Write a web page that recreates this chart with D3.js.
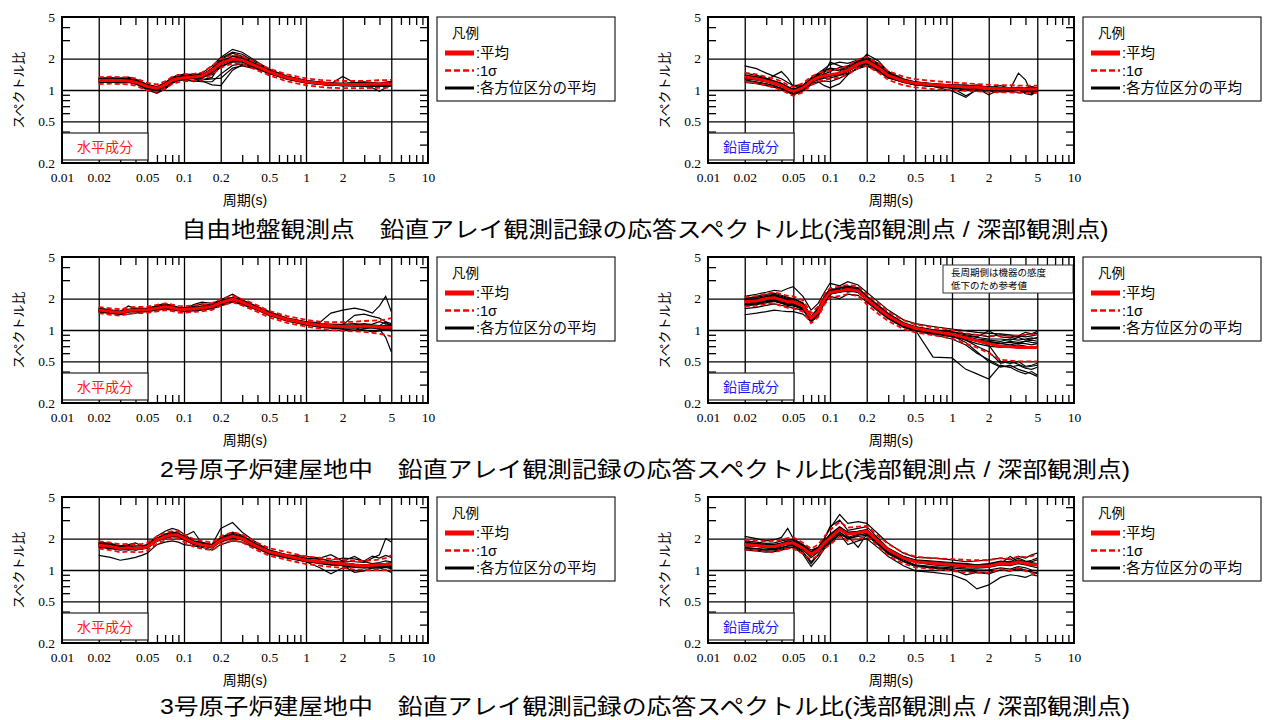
<!DOCTYPE html>
<html><head><meta charset="utf-8">
<script src="https://cdn.jsdelivr.net/npm/d3@7/dist/d3.min.js"></script>
<style>
body{margin:0;background:#fff;}
svg text{font-family:"Liberation Sans","Noto Sans CJK JP",sans-serif;fill:#000;}
</style></head><body>
<svg id="chart" width="1264" height="720"></svg>
<script>
// Period grid (s) shared by every curve
const periods = [0.02,0.025,0.03,0.035,0.04,0.045,0.05,0.06,0.07,0.08,0.09, 0.1,0.12,0.14,0.17,0.2,0.25,0.3,0.4,0.5,0.7, 1.0,1.3,1.6,2.0,2.5,3.0,3.5,4.0,4.5,5.0];

const xTickValues = [0.01,0.02,0.05,0.1,0.2,0.5,1,2,5,10];
const xTickLabels = ["0.01","0.02","0.05","0.1","0.2","0.5","1","2","5","10"];
const xGridValues = [0.02,0.05,0.1,0.2,0.5,1,2,5];
const xMinorValues = [0.03,0.04,0.06,0.07,0.08,0.09,0.3,0.4,0.6,0.7,0.8,0.9,3,4,6,7,8,9];
const yTickValues = [0.2,0.5,1,2,5];
const yTickLabels = ["0.2","0.5","1","2","5"];
const yGridValues = [0.5,1,2];
const yMinorValues = [0.3,0.4,0.6,0.7,0.8,0.9,3,4];

const rowTitles = [
  "自由地盤観測点　鉛直アレイ観測記録の応答スペクトル比(浅部観測点 / 深部観測点)",
  "2号原子炉建屋地中　鉛直アレイ観測記録の応答スペクトル比(浅部観測点 / 深部観測点)",
  "3号原子炉建屋地中　鉛直アレイ観測記録の応答スペクトル比(浅部観測点 / 深部観測点)"
];
const rowTitleWidths = [927, 970, 970];
const legendItems = ["平均","1σ","各方位区分の平均"];
const noteLines = ["長周期側は機器の感度","低下のため参考値"];

// ---- 自由地盤 水平成分 ----
const ffH_mean = [1.23,1.24,1.23,1.22,1.19,1.13,1.08,1.04,1.12,1.24,1.29, 1.31,1.33,1.36,1.55,1.8,1.98,1.93,1.67,1.49,1.31, 1.2,1.16,1.14,1.13,1.13,1.13,1.14,1.14,1.15,1.15];
const ffH_hi   = [1.33,1.34,1.33,1.32,1.29,1.23,1.17,1.13,1.21,1.34,1.39, 1.41,1.43,1.47,1.7,1.98,2.17,2.1,1.81,1.6,1.41, 1.29,1.25,1.23,1.22,1.22,1.22,1.23,1.24,1.24,1.25];
const ffH_lo   = [1.14,1.15,1.14,1.13,1.1,1.04,0.99,0.96,1.03,1.14,1.19, 1.21,1.23,1.25,1.41,1.63,1.8,1.77,1.54,1.38,1.21, 1.11,1.07,1.05,1.04,1.04,1.04,1.05,1.05,1.05,1.06];
const ffH_dirs = [
  [1.28,1.3,1.27,1.29,1.24,1.15,1.1,1.02,1.1,1.3,1.38, 1.42,1.4,1.38,1.62,1.95,2.25,2.1,1.75,1.52,1.32, 1.22,1.18,1.15,1.14,1.16,1.12,1.17,1.15,1.18,1.2],
  [1.2,1.22,1.2,1.2,1.16,1.1,1.05,0.98,1.05,1.2,1.25, 1.24,1.3,1.3,1.45,1.7,1.85,1.85,1.62,1.45,1.28, 1.18,1.14,1.1,1.12,1.1,1.09,1.1,1.12,1.1,1.12],
  [1.25,1.26,1.28,1.24,1.22,1.16,1.12,1.06,1.14,1.26,1.32, 1.26,1.22,1.2,1.2,1.42,1.72,1.78,1.6,1.46,1.3, 1.2,1.17,1.15,1.35,1.17,1.15,1.13,1.1,1.12,1.14],
  [1.3,1.31,1.3,1.33,1.27,1.2,1.13,1.08,1.18,1.32,1.4, 1.36,1.38,1.45,1.7,2.05,2.45,2.3,1.85,1.58,1.36, 1.23,1.2,1.17,1.16,1.18,1.2,1.18,1.16,1.19,1.2],
  [1.18,1.19,1.17,1.18,1.14,1.07,1.0,0.93,1.02,1.16,1.23, 1.3,1.28,1.22,1.12,1.1,1.55,1.75,1.62,1.44,1.27, 1.16,1.13,1.12,1.1,1.11,1.08,1.05,0.97,1.05,1.1],
  [1.24,1.25,1.22,1.25,1.2,1.14,1.08,1.03,1.08,1.22,1.28, 1.34,1.32,1.3,1.5,1.9,2.1,2.0,1.7,1.5,1.33, 1.2,1.18,1.15,1.13,1.12,1.13,1.14,1.16,1.15,1.13],
  [1.22,1.23,1.25,1.22,1.2,1.12,1.06,0.95,1.03,1.18,1.28, 1.32,1.36,1.38,1.58,1.85,2.0,1.95,1.66,1.48,1.3, 1.19,1.15,1.12,1.1,1.1,1.12,1.1,1.11,1.13,1.12],
  [1.26,1.27,1.24,1.23,1.2,1.16,1.1,1.06,1.12,1.24,1.33, 1.38,1.35,1.34,1.4,1.65,1.88,1.9,1.7,1.5,1.32, 1.22,1.17,1.14,1.16,1.14,1.12,1.13,1.15,1.14,1.16],
  [1.27,1.28,1.26,1.27,1.23,1.17,1.12,1.05,1.15,1.28,1.35, 1.36,1.3,1.25,1.32,1.78,2.12,2.05,1.72,1.52,1.34, 1.21,1.17,1.15,1.13,1.15,1.14,1.15,1.14,1.17,1.18],
  [1.21,1.22,1.21,1.19,1.17,1.1,1.04,1.0,1.08,1.2,1.27, 1.28,1.32,1.33,1.5,1.75,1.92,1.88,1.64,1.47,1.29, 1.18,1.15,1.13,1.11,1.12,1.1,1.11,1.13,1.12,1.13],
  [1.29,1.29,1.29,1.3,1.26,1.19,1.12,1.06,1.16,1.3,1.36, 1.4,1.42,1.4,1.6,2.0,2.3,2.2,1.8,1.55,1.35, 1.24,1.19,1.17,1.15,1.17,1.18,1.16,1.14,1.16,1.19],
  [1.19,1.2,1.19,1.2,1.15,1.08,1.02,0.96,1.04,1.17,1.24, 1.26,1.2,1.25,1.28,1.3,1.62,1.7,1.58,1.43,1.27, 1.17,1.13,1.11,1.1,1.09,1.1,1.08,1.09,1.08,1.1]
];

// ---- 自由地盤 鉛直成分 ----
const ffV_mean = [1.33,1.28,1.22,1.16,1.1,1.02,0.97,1.05,1.22,1.32,1.37, 1.4,1.45,1.55,1.78,1.88,1.62,1.38,1.22,1.16,1.12, 1.09,1.07,1.06,1.04,1.03,1.03,1.02,1.02,1.02,1.02];
const ffV_hi   = [1.46,1.41,1.34,1.28,1.21,1.12,1.07,1.16,1.34,1.45,1.51, 1.54,1.6,1.71,1.96,2.07,1.78,1.52,1.34,1.27,1.22, 1.18,1.16,1.14,1.12,1.11,1.11,1.1,1.1,1.1,1.1];
const ffV_lo   = [1.21,1.16,1.11,1.05,1.0,0.93,0.88,0.95,1.11,1.2,1.25, 1.27,1.32,1.41,1.62,1.71,1.47,1.25,1.11,1.06,1.02, 1.0,0.98,0.97,0.96,0.95,0.95,0.94,0.94,0.94,0.94];
const ffV_dirs = [
  [1.7,1.6,1.45,1.35,1.28,1.18,1.1,1.12,1.3,1.45,1.6, 1.75,1.85,1.8,1.95,2.1,1.75,1.45,1.25,1.15,1.12, 1.05,0.88,1.0,1.05,1.0,1.02,1.45,1.25,0.92,1.0],
  [1.3,1.27,1.24,1.38,1.5,1.3,1.08,1.1,1.25,1.35,1.42, 1.5,1.65,1.7,1.85,2.0,1.7,1.42,1.24,1.2,1.14, 1.12,1.1,1.07,1.06,1.04,1.05,1.0,1.03,1.08,1.05],
  [1.25,1.2,1.15,1.1,1.04,0.98,0.92,1.0,1.15,1.2,1.1, 1.05,1.15,1.4,1.65,1.8,1.55,1.32,1.18,1.12,1.08, 0.98,0.85,1.02,1.06,1.0,0.98,1.01,0.92,0.9,0.98],
  [1.4,1.33,1.28,1.2,1.15,1.07,1.0,1.08,1.25,1.4,1.55, 1.6,1.52,1.7,1.9,2.05,1.8,1.5,1.28,1.2,1.15, 1.12,1.1,1.08,1.05,1.1,1.04,1.02,1.0,1.03,1.04],
  [1.22,1.18,1.12,1.08,1.04,0.97,0.94,1.02,1.18,1.25,1.3, 1.3,1.38,1.45,1.6,1.7,1.5,1.3,1.2,1.12,1.08, 1.05,1.02,1.0,1.0,0.98,0.99,1.0,0.98,0.96,0.98],
  [1.35,1.3,1.25,1.18,1.12,1.05,1.0,1.06,1.2,1.3,1.45, 1.85,1.7,1.6,1.8,2.2,1.9,1.5,1.25,1.18,1.14, 1.1,1.08,1.12,1.06,1.05,1.04,1.06,1.02,1.0,1.0],
  [1.28,1.25,1.2,1.15,1.08,1.0,0.95,1.04,1.2,1.3,1.35, 1.4,1.42,1.5,1.72,1.85,1.62,1.38,1.22,1.16,1.1, 1.08,1.05,1.04,0.9,1.02,1.03,1.05,0.95,0.98,1.0],
  [1.32,1.28,1.22,1.16,1.12,1.03,0.97,1.03,1.22,1.35,1.4, 1.35,1.48,1.6,1.85,1.95,1.65,1.4,1.22,1.17,1.12, 1.08,1.06,1.04,1.03,1.02,1.0,1.03,1.05,1.08,1.02],
  [1.45,1.38,1.3,1.22,1.16,1.06,1.0,1.1,1.28,1.42,1.52, 1.55,1.58,1.65,1.88,2.0,1.72,1.45,1.26,1.18,1.12, 1.1,1.08,1.06,1.05,1.04,1.04,1.03,1.03,1.05,1.03],
  [1.18,1.15,1.1,1.06,1.02,0.95,0.9,0.98,1.12,1.18,1.22, 1.2,1.3,1.42,1.62,1.75,1.52,1.32,1.18,1.12,1.08, 1.04,1.0,0.98,0.97,0.96,0.97,0.95,0.96,0.94,0.95],
  [1.38,1.34,1.28,1.22,1.15,1.08,1.02,1.1,1.25,1.38,1.5, 1.62,1.58,1.55,1.75,1.9,1.68,1.42,1.24,1.18,1.14, 1.1,1.12,1.08,1.08,1.05,1.04,1.06,1.04,1.02,1.03],
  [1.3,1.25,1.2,1.14,1.08,1.01,0.96,1.02,1.18,1.28,1.32, 1.36,1.4,1.52,1.7,1.82,1.58,1.36,1.2,1.15,1.1, 1.07,1.05,1.05,1.03,1.0,1.02,1.0,0.98,1.0,1.0]
];

// ---- 2号原子炉建屋 水平成分 ----
const u2H_mean = [1.55,1.5,1.47,1.53,1.55,1.55,1.56,1.62,1.67,1.63,1.58, 1.57,1.6,1.62,1.68,1.83,1.98,1.85,1.6,1.42,1.26, 1.16,1.11,1.09,1.08,1.08,1.09,1.08,1.07,1.06,1.06];
const u2H_hi   = [1.66,1.61,1.58,1.64,1.66,1.66,1.67,1.74,1.8,1.75,1.7, 1.69,1.72,1.74,1.81,1.97,2.12,1.98,1.72,1.52,1.36, 1.25,1.2,1.19,1.19,1.2,1.22,1.23,1.24,1.26,1.3];
const u2H_lo   = [1.45,1.4,1.37,1.43,1.45,1.45,1.46,1.51,1.55,1.52,1.47, 1.46,1.49,1.51,1.56,1.7,1.85,1.72,1.49,1.32,1.17, 1.08,1.03,1.0,0.98,0.97,0.96,0.94,0.92,0.9,0.87];
const u2H_dirs = [
  [1.6,1.55,1.5,1.7,1.6,1.62,1.58,1.72,1.8,1.7,1.62, 1.6,1.75,1.85,1.8,1.95,2.2,1.95,1.68,1.5,1.3, 1.2,1.18,1.45,1.55,1.62,1.55,1.45,1.7,2.1,1.5],
  [1.5,1.45,1.42,1.48,1.5,1.52,1.5,1.58,1.62,1.6,1.55, 1.62,1.55,1.58,1.62,1.78,1.9,1.8,1.58,1.4,1.24, 1.14,1.1,1.08,1.06,1.05,1.08,1.06,1.02,0.85,0.62],
  [1.58,1.52,1.5,1.55,1.6,1.58,1.6,1.65,1.7,1.68,1.62, 1.65,1.63,1.7,1.75,1.9,2.05,1.9,1.65,1.45,1.28, 1.18,1.12,1.1,1.12,1.38,1.42,1.35,1.3,1.2,1.15],
  [1.52,1.48,1.45,1.5,1.52,1.5,1.52,1.55,1.6,1.58,1.55, 1.52,1.58,1.6,1.65,1.75,1.85,1.8,1.56,1.38,1.22, 1.12,1.06,1.04,1.02,1.0,1.03,1.05,1.02,1.0,0.98],
  [1.56,1.5,1.44,1.56,1.58,1.56,1.6,1.7,1.75,1.72,1.65, 1.6,1.68,1.62,1.6,1.75,2.0,1.9,1.62,1.43,1.27, 1.17,1.12,1.1,1.1,1.12,1.15,1.12,1.1,1.2,1.08],
  [1.48,1.44,1.4,1.42,1.45,1.48,1.5,1.55,1.58,1.55,1.52, 1.5,1.52,1.55,1.6,1.7,1.85,1.75,1.55,1.38,1.22, 1.12,1.08,1.05,1.04,1.05,1.0,0.96,0.98,1.02,1.0],
  [1.55,1.52,1.46,1.52,1.54,1.56,1.55,1.62,1.68,1.65,1.6, 1.58,1.62,1.66,1.72,1.88,2.0,1.85,1.6,1.42,1.26, 1.16,1.1,1.06,1.08,1.06,1.1,1.08,1.06,1.12,1.05],
  [1.53,1.5,1.48,1.56,1.56,1.54,1.58,1.64,1.72,1.62,1.6, 1.55,1.6,1.64,1.7,1.8,1.95,1.82,1.6,1.42,1.25, 1.15,1.1,1.1,1.08,1.1,1.06,1.08,1.1,1.08,1.1],
  [1.62,1.56,1.52,1.58,1.62,1.6,1.62,1.68,1.75,1.7,1.64, 1.62,1.68,1.78,1.72,1.9,2.05,1.92,1.66,1.46,1.3, 1.2,1.15,1.14,1.13,1.15,1.12,1.14,1.2,1.15,1.12],
  [1.5,1.46,1.43,1.5,1.52,1.52,1.54,1.6,1.64,1.6,1.56, 1.54,1.56,1.6,1.65,1.78,1.92,1.82,1.58,1.4,1.24, 1.15,1.1,1.08,1.07,1.08,1.07,1.06,1.04,1.05,1.02],
  [1.57,1.53,1.49,1.54,1.57,1.57,1.58,1.63,1.69,1.66,1.6, 1.59,1.62,1.62,1.7,1.86,2.02,1.88,1.62,1.43,1.27, 1.17,1.11,1.08,1.1,1.09,1.12,1.1,1.08,1.1,1.12],
  [1.54,1.49,1.46,1.51,1.53,1.54,1.55,1.6,1.65,1.62,1.57, 1.56,1.58,1.62,1.66,1.82,1.96,1.84,1.59,1.41,1.25, 1.15,1.1,1.07,1.06,1.07,1.08,1.07,1.05,1.06,1.04]
];

// ---- 2号原子炉建屋 鉛直成分 ----
const u2V_mean = [1.86,1.9,2.0,2.04,1.94,1.86,1.86,1.7,1.3,1.5,1.97, 2.29,2.37,2.46,2.37,1.97,1.6,1.36,1.13,1.04,0.97, 0.91,0.84,0.79,0.74,0.7,0.69,0.68,0.68,0.68,0.68];
const u2V_hi   = [2.05,2.12,2.22,2.3,2.2,2.12,2.1,1.92,1.45,1.68,2.2, 2.52,2.6,2.7,2.62,2.2,1.78,1.5,1.24,1.13,1.06, 1.0,0.93,0.9,0.88,0.88,0.88,0.89,0.9,0.91,0.92];
const u2V_lo   = [1.68,1.7,1.78,1.8,1.7,1.63,1.62,1.5,1.16,1.33,1.76, 2.05,2.12,2.2,2.12,1.76,1.42,1.22,1.02,0.95,0.89, 0.83,0.74,0.68,0.6,0.52,0.51,0.5,0.5,0.5,0.5];
const u2V_dirs = [
  [2.1,2.2,2.3,2.4,2.35,2.5,2.6,2.1,1.55,1.8,2.3, 2.8,2.65,2.9,2.7,2.3,1.85,1.55,1.25,1.15,1.08, 1.02,0.98,0.95,0.93,0.92,0.9,0.88,0.95,0.92,0.97],
  [1.4,1.45,1.5,1.55,1.52,1.5,1.5,1.42,1.2,1.35,1.8, 2.1,2.0,2.2,2.15,1.85,1.5,1.28,1.06,0.98,0.92, 0.86,0.82,0.8,0.78,0.75,0.76,0.74,0.78,0.76,0.75],
  [1.75,1.8,1.9,1.95,1.85,1.8,1.75,1.62,1.25,1.45,2.0, 2.4,2.3,2.5,2.45,2.0,1.62,1.35,1.12,1.02,0.94, 0.88,0.76,0.62,0.5,0.44,0.46,0.42,0.4,0.38,0.36],
  [1.95,2.0,2.1,2.15,2.05,1.95,1.9,1.75,1.3,1.55,2.1, 2.5,2.4,2.55,2.45,2.05,1.65,1.4,1.15,1.05,0.98, 0.92,0.88,0.85,0.82,0.82,0.8,0.85,0.8,0.82,0.85],
  [1.85,1.95,2.05,2.2,2.0,1.9,1.95,1.72,1.32,1.52,1.95, 2.2,2.6,2.4,2.3,1.95,1.58,1.34,1.1,1.0,0.55, 0.54,0.42,0.38,0.34,0.46,0.44,0.4,0.38,0.4,0.37],
  [1.6,1.65,1.72,1.78,1.72,1.68,1.62,1.55,1.22,1.4,1.85, 2.2,2.45,2.3,2.4,1.9,1.55,1.3,1.08,0.98,0.9, 0.82,0.72,0.6,0.52,0.45,0.44,0.46,0.43,0.42,0.44],
  [2.0,2.05,2.15,2.2,2.1,2.0,2.0,1.8,1.35,1.6,2.05, 2.35,2.5,2.6,2.55,2.1,1.7,1.42,1.16,1.06,1.0, 0.95,0.9,0.86,0.98,0.86,0.84,0.88,0.86,0.88,0.9],
  [1.8,1.85,1.95,1.98,1.9,1.82,1.8,1.65,1.28,1.48,1.95, 2.25,2.3,2.45,2.3,1.95,1.6,1.35,1.12,1.02,0.95, 0.89,0.8,0.74,0.7,0.68,0.7,0.72,0.7,0.68,0.7],
  [1.9,1.92,2.0,2.1,1.98,1.88,1.85,1.7,1.32,1.52,2.0, 2.3,2.4,2.5,2.4,2.0,1.62,1.36,1.14,1.04,0.96, 0.9,0.84,0.78,0.72,0.5,0.48,0.5,0.45,0.46,0.48],
  [1.7,1.75,1.82,1.88,1.8,1.72,1.7,1.58,1.22,1.42,1.9, 2.2,2.3,2.35,2.3,1.92,1.55,1.32,1.1,1.0,0.93, 0.87,0.82,0.78,0.76,0.74,0.78,0.76,0.78,0.8,0.78],
  [1.88,1.95,2.08,2.12,2.0,1.92,1.9,1.74,1.3,1.5,1.98, 2.32,2.42,2.55,2.45,2.02,1.62,1.38,1.14,1.04,0.97, 0.92,0.86,0.82,0.8,0.78,0.82,0.8,0.82,0.84,0.82],
  [1.78,1.8,1.88,1.92,1.84,1.78,1.76,1.62,1.26,1.45,1.92, 2.25,2.35,2.4,2.35,1.95,1.58,1.34,1.12,1.03,0.95, 0.88,0.8,0.7,0.62,0.48,0.5,0.47,0.44,0.45,0.46],
  [2.0,2.1,2.2,2.25,2.15,2.05,2.0,1.82,1.36,1.62,2.1, 2.4,2.55,2.65,2.5,2.12,1.72,1.45,1.18,1.08,1.01, 0.96,0.92,0.9,0.86,0.9,0.88,0.86,0.9,0.92,0.93],
  [1.72,1.78,1.86,1.9,1.82,1.76,1.74,1.6,1.24,1.44,1.9, 2.22,2.32,2.42,2.32,1.94,1.56,1.33,1.1,1.01,0.94, 0.88,0.83,0.8,0.76,0.74,0.72,0.75,0.74,0.72,0.74]
];

// ---- 3号原子炉建屋 水平成分 ----
const u3H_mean = [1.73,1.68,1.61,1.63,1.61,1.62,1.67,1.94,2.09,2.17,2.15, 2.02,1.82,1.74,1.68,1.92,2.1,2.0,1.67,1.49,1.36, 1.24,1.2,1.17,1.15,1.11,1.1,1.11,1.12,1.13,1.14];
const u3H_hi   = [1.88,1.83,1.76,1.78,1.76,1.77,1.82,2.1,2.27,2.36,2.34, 2.2,1.98,1.9,1.83,2.1,2.3,2.18,1.82,1.62,1.48, 1.35,1.31,1.28,1.26,1.22,1.22,1.24,1.26,1.3,1.38];
const u3H_lo   = [1.6,1.55,1.48,1.5,1.48,1.49,1.54,1.79,1.93,2.0,1.98, 1.86,1.67,1.6,1.55,1.76,1.93,1.84,1.54,1.37,1.25, 1.14,1.1,1.07,1.05,1.01,1.0,1.0,1.0,1.0,1.0];
const u3H_dirs = [
  [1.85,1.8,1.7,1.75,1.82,1.7,1.75,2.1,2.35,2.5,2.4, 2.2,1.9,1.85,1.75,2.5,2.85,2.3,1.8,1.55,1.4, 1.35,1.3,1.2,1.22,1.2,1.18,1.3,1.4,2.0,1.85],
  [1.38,1.32,1.24,1.28,1.32,1.38,1.45,1.75,1.85,1.9,1.85, 1.75,1.7,1.65,1.55,1.75,1.9,1.85,1.6,1.42,1.3, 1.2,1.05,0.92,1.05,1.08,1.06,1.04,1.05,1.0,0.95],
  [1.75,1.7,1.62,1.68,1.6,1.58,1.7,2.0,2.2,2.3,2.25, 2.1,2.34,1.8,1.7,1.95,2.2,2.05,1.7,1.5,1.35, 1.25,1.2,1.18,1.15,1.1,1.08,1.1,1.12,1.15,1.1],
  [1.68,1.62,1.58,1.55,1.58,1.6,1.62,1.9,2.05,2.1,2.1, 1.95,1.75,1.7,1.62,1.88,2.05,1.95,1.65,1.46,1.34, 1.22,1.18,1.14,1.12,1.08,1.05,1.08,1.1,1.08,1.05],
  [1.8,1.75,1.68,1.7,1.65,1.65,1.7,2.0,2.15,2.25,2.2, 2.05,1.85,1.78,1.72,2.0,2.25,2.1,1.72,1.52,1.38, 1.28,1.3,1.4,1.22,1.35,1.2,1.15,1.18,1.22,1.2],
  [1.7,1.65,1.6,1.62,1.58,1.62,1.65,1.9,2.05,2.12,2.1, 1.98,1.8,1.72,1.65,1.9,2.05,1.95,1.65,1.48,1.32, 1.2,1.15,1.12,1.12,1.08,1.1,1.12,1.1,1.12,1.08],
  [1.78,1.72,1.65,1.66,1.65,1.64,1.68,1.95,2.1,2.18,2.15, 2.0,1.82,1.75,1.7,1.92,2.12,2.02,1.68,1.5,1.36, 1.24,1.2,1.16,1.1,0.95,0.98,1.05,1.08,1.1,1.12],
  [1.72,1.68,1.6,1.62,1.55,1.6,1.64,1.92,2.05,2.12,2.12, 1.98,1.8,1.74,1.66,1.88,2.08,1.98,1.66,1.48,1.35, 1.24,1.18,1.15,1.14,1.1,1.12,1.1,1.1,1.15,1.1],
  [1.76,1.7,1.64,1.66,1.62,1.63,1.68,1.96,2.12,2.2,2.18, 2.04,1.84,1.76,1.7,1.95,2.15,2.04,1.7,1.5,1.37, 1.26,1.22,1.18,1.18,1.14,1.12,1.14,1.15,1.16,1.18],
  [1.65,1.6,1.55,1.58,1.56,1.58,1.62,1.88,2.02,2.08,2.06, 1.94,1.78,1.7,1.64,1.85,2.02,1.94,1.62,1.46,1.33, 1.22,1.16,1.12,1.1,1.06,1.05,1.06,1.05,1.06,1.03],
  [1.82,1.76,1.68,1.7,1.7,1.7,1.72,2.02,2.2,2.3,2.26, 2.1,1.88,1.8,1.75,2.05,2.3,2.15,1.75,1.54,1.4, 1.3,1.26,1.24,1.3,1.28,1.22,1.36,1.3,1.38,1.32],
  [1.7,1.66,1.58,1.6,1.58,1.6,1.64,1.9,2.06,2.14,2.12, 1.98,1.8,1.72,1.66,1.9,2.08,1.98,1.66,1.48,1.35, 1.22,1.18,1.14,1.12,1.08,1.06,1.08,1.06,1.08,1.08]
];

// ---- 3号原子炉建屋 鉛直成分 ----
const u3V_mean = [1.75,1.72,1.68,1.68,1.75,1.81,1.81,1.62,1.42,1.55,1.82, 2.03,2.45,2.2,2.27,2.36,1.88,1.56,1.3,1.2,1.16, 1.12,1.09,1.08,1.09,1.16,1.14,1.2,1.16,1.13,1.12];
const u3V_hi   = [1.95,1.92,1.88,1.9,1.95,2.02,2.05,1.82,1.6,1.75,2.1, 2.4,2.9,2.55,2.6,2.65,2.1,1.78,1.46,1.34,1.3, 1.27,1.25,1.24,1.24,1.3,1.28,1.35,1.33,1.36,1.42];
const u3V_lo   = [1.56,1.53,1.5,1.48,1.55,1.6,1.6,1.44,1.26,1.38,1.6, 1.75,2.1,1.9,1.98,2.1,1.68,1.37,1.15,1.06,1.02, 0.98,0.95,0.94,0.94,1.02,0.98,1.04,0.98,0.94,0.89];
const u3V_dirs = [
  [2.1,2.0,1.9,1.95,2.05,2.5,2.0,1.75,1.55,1.65,2.0, 2.5,3.4,2.8,2.9,2.8,2.2,1.8,1.45,1.32,1.3, 1.25,1.2,1.22,1.25,1.3,1.25,1.35,1.3,1.4,1.45],
  [1.55,1.52,1.48,1.5,1.55,1.6,1.65,1.42,1.08,1.3,1.6, 1.8,2.2,1.75,1.9,2.0,1.62,1.35,1.1,0.98,0.95, 0.9,0.8,0.66,0.72,0.85,0.9,0.88,0.85,0.9,0.88],
  [1.8,1.78,1.72,1.7,1.8,1.88,1.85,1.68,1.45,1.6,1.9, 2.2,2.6,2.3,2.2,2.4,1.9,1.58,1.32,1.22,1.18, 1.14,1.1,1.1,1.12,1.2,1.16,1.25,1.2,1.18,1.15],
  [1.65,1.6,1.55,1.58,1.65,1.7,1.72,1.55,1.32,1.48,1.75, 2.0,2.3,2.0,2.15,2.25,1.78,1.48,1.25,1.12,1.08, 1.05,1.02,1.0,1.0,1.05,1.02,1.08,1.05,1.0,0.98],
  [1.9,1.85,1.8,1.82,1.9,1.95,1.95,1.72,1.5,1.65,2.0, 2.6,3.0,2.4,2.5,2.6,2.0,1.62,1.35,1.25,1.22, 1.18,1.15,1.12,1.15,1.22,1.2,1.3,1.22,1.2,1.25],
  [1.7,1.68,1.62,1.6,1.7,1.78,1.75,1.6,1.38,1.52,1.78, 1.95,2.45,2.1,1.65,2.2,1.85,1.52,1.28,1.18,1.12, 1.08,1.05,1.04,1.06,1.12,1.1,1.15,1.12,1.08,1.05],
  [1.78,1.75,1.7,1.72,1.72,1.8,1.82,1.62,1.45,1.55,1.85, 2.1,2.5,2.25,2.35,2.4,1.9,1.58,1.3,1.2,1.15, 1.1,1.12,1.08,1.1,1.15,1.35,1.2,1.15,1.1,1.1],
  [1.62,1.6,1.58,1.56,1.62,1.7,1.72,1.5,1.15,1.4,1.7, 1.9,2.3,2.05,2.2,2.2,1.75,1.45,1.22,1.1,1.06, 1.02,0.9,0.95,0.92,1.0,0.98,1.05,1.0,0.95,0.92],
  [1.72,1.7,1.66,1.66,1.74,1.82,1.8,1.6,1.4,1.52,1.8, 2.0,2.4,2.2,2.25,2.35,1.86,1.55,1.3,1.2,1.16, 1.12,1.08,1.08,1.1,1.15,1.15,1.2,1.15,1.12,1.12],
  [1.85,1.8,1.76,1.76,1.82,1.9,1.9,1.7,1.48,1.62,1.92, 2.15,2.55,2.3,2.35,2.45,1.95,1.6,1.34,1.24,1.2, 1.16,1.14,1.12,1.14,1.2,1.18,1.24,1.2,1.24,1.3],
  [1.58,1.55,1.52,1.52,1.58,1.65,1.66,1.48,1.2,1.38,1.66, 1.85,2.2,2.0,2.1,2.15,1.72,1.42,1.2,1.08,1.04, 1.0,0.98,0.96,0.95,1.0,0.98,1.02,0.98,0.96,0.94],
  [1.76,1.74,1.7,1.72,1.78,1.84,1.84,1.64,1.44,1.56,1.84, 2.05,2.48,2.22,2.3,2.38,1.9,1.57,1.31,1.21,1.17, 1.13,1.1,1.09,1.1,1.18,1.16,1.22,1.18,1.14,1.14]
];

const panels = [
  {row:0, col:0, comp:"水平成分", mean:ffH_mean, hi:ffH_hi, lo:ffH_lo, dirs:ffH_dirs},
  {row:0, col:1, comp:"鉛直成分", mean:ffV_mean, hi:ffV_hi, lo:ffV_lo, dirs:ffV_dirs},
  {row:1, col:0, comp:"水平成分", mean:u2H_mean, hi:u2H_hi, lo:u2H_lo, dirs:u2H_dirs},
  {row:1, col:1, comp:"鉛直成分", mean:u2V_mean, hi:u2V_hi, lo:u2V_lo, dirs:u2V_dirs, note:true},
  {row:2, col:0, comp:"水平成分", mean:u3H_mean, hi:u3H_hi, lo:u3H_lo, dirs:u3H_dirs},
  {row:2, col:1, comp:"鉛直成分", mean:u3V_mean, hi:u3V_hi, lo:u3V_lo, dirs:u3V_dirs}
];

// ---- layout ----
const COL_X = [62, 708], ROW_Y = [17, 257, 497];
const TITLE_Y = [229, 469, 706];
const PW = 366, PH = 146;
const compColor = {"水平成分":"#ff1a1a", "鉛直成分":"#1a1aee"};
const SERIF = "'Liberation Serif','DejaVu Serif',serif";

const svg = d3.select("#chart");
const x = d3.scaleLog().domain([0.01, 10]).range([0, PW]);
const y = d3.scaleLog().domain([0.2, 5]).range([PH, 0]);
const line = d3.line().x(d => x(d[0])).y(d => y(d[1]));

svg.append("defs").append("clipPath").attr("id","plotclip")
  .append("rect").attr("width", PW).attr("height", PH);

function strokeLines(sel) {
  sel.selectAll("line").attr("stroke","#000").attr("stroke-width",1.3);
}

panels.forEach(p => {
  const g = svg.append("g").attr("transform", `translate(${COL_X[p.col]},${ROW_Y[p.row]})`);

  // grid lines
  g.append("g")
    .call(d3.axisBottom(x).tickValues(xGridValues).tickSize(PH).tickFormat(""))
    .call(s => s.select(".domain").remove())
    .call(strokeLines);
  g.append("g")
    .call(d3.axisLeft(y).tickValues(yGridValues).tickSize(-PW).tickFormat(""))
    .call(s => s.select(".domain").remove())
    .call(strokeLines);

  // minor ticks, pointing inward on all four sides
  const TL = 8;
  g.append("g")
    .call(d3.axisTop(x).tickValues(xMinorValues).tickSizeInner(-TL).tickSizeOuter(0).tickFormat(""))
    .call(s => s.select(".domain").remove()).call(strokeLines);
  g.append("g").attr("transform", `translate(0,${PH})`)
    .call(d3.axisBottom(x).tickValues(xMinorValues).tickSizeInner(-TL).tickSizeOuter(0).tickFormat(""))
    .call(s => s.select(".domain").remove()).call(strokeLines);
  g.append("g")
    .call(d3.axisLeft(y).tickValues(yMinorValues).tickSizeInner(-TL).tickSizeOuter(0).tickFormat(""))
    .call(s => s.select(".domain").remove()).call(strokeLines);
  g.append("g").attr("transform", `translate(${PW},0)`)
    .call(d3.axisRight(y).tickValues(yMinorValues).tickSizeInner(-TL).tickSizeOuter(0).tickFormat(""))
    .call(s => s.select(".domain").remove()).call(strokeLines);

  // tick labels
  g.append("g").attr("transform", `translate(0,${PH})`)
    .call(d3.axisBottom(x).tickValues(xTickValues).tickSize(0).tickPadding(9)
      .tickFormat((d,i) => xTickLabels[i]))
    .call(s => s.select(".domain").remove())
    .selectAll("text").style("font-family", SERIF).style("font-size","13.5px");
  g.append("g")
    .call(d3.axisLeft(y).tickValues(yTickValues).tickSize(0).tickPadding(7)
      .tickFormat((d,i) => yTickLabels[i]))
    .call(s => s.select(".domain").remove())
    .selectAll("text").style("font-family", SERIF).style("font-size","13.5px");

  // axis titles
  g.append("text").attr("transform", `translate(-44,${PH/2}) rotate(-90)`)
    .attr("text-anchor","middle").attr("dy","0.35em").attr("font-size",13).text("スペクトル比");
  g.append("text").attr("x", PW/2).attr("y", PH + 42)
    .attr("text-anchor","middle").attr("font-size",14).text("周期(s)");

  // curves: each direction, then ±1σ, then the mean on top
  const plot = g.append("g").attr("clip-path","url(#plotclip)");
  p.dirs.forEach(arr => {
    plot.append("path").datum(d3.zip(periods, arr)).attr("d", line)
      .attr("fill","none").attr("stroke","#000").attr("stroke-width",1.2);
  });
  [p.hi, p.lo].forEach(arr => {
    plot.append("path").datum(d3.zip(periods, arr)).attr("d", line)
      .attr("fill","none").attr("stroke","#ff0000").attr("stroke-width",1.8)
      .attr("stroke-dasharray","5,3");
  });
  plot.append("path").datum(d3.zip(periods, p.mean)).attr("d", line)
    .attr("fill","none").attr("stroke","#ff0000").attr("stroke-width",3);

  // component label box
  const cb = g.append("g").attr("transform", `translate(0,${PH-30})`);
  cb.append("rect").attr("width",86).attr("height",27).attr("fill","#fff")
    .attr("stroke","#222").attr("stroke-width",1.2);
  cb.append("text").attr("x",43).attr("y",14).attr("dy","0.36em").attr("text-anchor","middle")
    .attr("font-size",14).style("fill", compColor[p.comp]).text(p.comp);

  // note box
  if (p.note) {
    const nb = g.append("g").attr("transform", `translate(235,8)`);
    nb.append("rect").attr("width",130).attr("height",28).attr("fill","#fff")
      .attr("stroke","#333").attr("stroke-width",1);
    noteLines.forEach((t,i) => nb.append("text").attr("x",8).attr("y",8 + i*13).attr("dy","0.36em")
      .attr("font-size",9.5).text(t));
  }

  // frame
  g.append("rect").attr("width",PW).attr("height",PH).attr("fill","none")
    .attr("stroke","#000").attr("stroke-width",2);

  // legend
  const lg = g.append("g").attr("transform", `translate(${PW+9},0)`);
  lg.append("rect").attr("width",178).attr("height",84).attr("fill","#fff")
    .attr("stroke","#222").attr("stroke-width",1.2);
  lg.append("text").attr("x",15).attr("y",16).attr("dy","0.36em").attr("font-size",13.5).text("凡例");
  const sw = [
    {stroke:"#ff0000", w:5, dash:null},
    {stroke:"#ff0000", w:2.5, dash:"6,3"},
    {stroke:"#000", w:3, dash:null}
  ];
  legendItems.forEach((t,i) => {
    const yy = 36 + i*17.5;
    lg.append("line").attr("x1",8).attr("x2",37).attr("y1",yy).attr("y2",yy)
      .attr("stroke",sw[i].stroke).attr("stroke-width",sw[i].w)
      .attr("stroke-dasharray",sw[i].dash);
    lg.append("text").attr("x",39).attr("y",yy).attr("dy","0.36em").attr("font-size",14.5).text(":" + t);
  });
});

// row titles
rowTitles.forEach((t,i) => {
  svg.append("text").attr("x",645).attr("y", TITLE_Y[i]).attr("dy","0.36em")
    .attr("text-anchor","middle").attr("font-size",22)
    .attr("textLength", rowTitleWidths[i]).attr("lengthAdjust","spacingAndGlyphs")
    .text(t);
});
</script>
</body></html>
